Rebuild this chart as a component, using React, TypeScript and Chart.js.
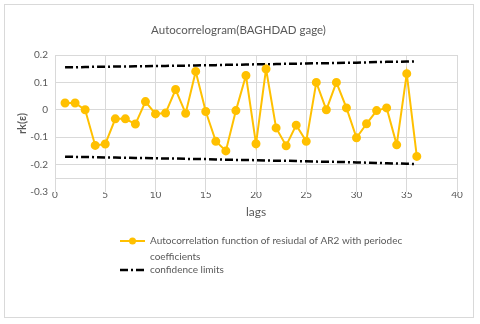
import React, { useEffect, useRef } from "react";
import { Chart, registerables } from "chart.js";

Chart.register(...registerables);

const lags = [1, 2, 3, 4, 5, 6, 7, 8, 9, 10, 11, 12, 13, 14, 15, 16, 17, 18, 19, 20, 21, 22, 23, 24, 25, 26, 27, 28, 29, 30, 31, 32, 33, 34, 35, 36];
const acfValues = [0.025, 0.025, 0.0, -0.13, -0.125, -0.033, -0.033, -0.052, 0.03, -0.015, -0.012, 0.074, -0.013, 0.14, -0.006, -0.115, -0.15, -0.003, 0.125, -0.124, 0.149, -0.066, -0.131, -0.056, -0.115, 0.1, 0.0, 0.1, 0.007, -0.102, -0.051, -0.003, 0.007, -0.128, 0.132, -0.17];
const upperLimit = [0.155, 0.155, 0.156, 0.157, 0.157, 0.158, 0.158, 0.159, 0.159, 0.16, 0.16, 0.161, 0.161, 0.162, 0.163, 0.163, 0.164, 0.164, 0.165, 0.166, 0.166, 0.167, 0.168, 0.168, 0.169, 0.17, 0.17, 0.171, 0.172, 0.172, 0.173, 0.174, 0.175, 0.175, 0.176, 0.177];
const lowerLimit = [-0.171, -0.172, -0.172, -0.173, -0.174, -0.174, -0.175, -0.176, -0.176, -0.177, -0.178, -0.178, -0.179, -0.18, -0.18, -0.181, -0.182, -0.183, -0.183, -0.184, -0.185, -0.186, -0.186, -0.187, -0.188, -0.189, -0.19, -0.19, -0.191, -0.192, -0.193, -0.194, -0.195, -0.196, -0.197, -0.198];

const titleText = "Autocorrelogram(BAGHDAD gage)";
const xTitle = "lags";
const yTitle = "rk(ε)";
const acfLabel = ["Autocorrelation function of resiudal of AR2 with periodec", "coefficients"];
const limitLabel = "confidence limits";

const FONT = "Lato";
const TEXT = "#595959";
const GRID = "#d9d9d9";
const ORANGE = "#FFC000";
const DASH = [8, 3, 2, 3];

const overlayPlugin = {
  id: "overlay",
  afterDraw(chart: any) {
    const ctx = chart.ctx;
    ctx.save();
    // title
    ctx.fillStyle = TEXT;
    ctx.font = `11.5px ${FONT}`;
    ctx.textAlign = "center";
    ctx.textBaseline = "middle";
    ctx.fillText(titleText, 238.5, 30);
    // legend item 1
    ctx.strokeStyle = ORANGE;
    ctx.lineWidth = 2;
    ctx.setLineDash([]);
    ctx.beginPath();
    ctx.moveTo(120, 241);
    ctx.lineTo(145, 241);
    ctx.stroke();
    ctx.fillStyle = ORANGE;
    ctx.beginPath();
    ctx.arc(132.5, 241, 3.5, 0, Math.PI * 2);
    ctx.fill();
    // legend item 2
    ctx.strokeStyle = "#000";
    ctx.lineWidth = 2.5;
    ctx.setLineDash(DASH);
    ctx.beginPath();
    ctx.moveTo(120, 270);
    ctx.lineTo(144, 270);
    ctx.stroke();
    ctx.setLineDash([]);
    ctx.fillStyle = TEXT;
    ctx.font = `10px ${FONT}`;
    ctx.textBaseline = "middle";
    ctx.textAlign = "left";
    ctx.fillText(acfLabel[0], 150, 241);
    ctx.fillText(acfLabel[1], 150, 257);
    ctx.fillText(limitLabel, 150, 270);
    ctx.restore();
  },
};

export default function App() {
  const ref = useRef<HTMLCanvasElement>(null);
  useEffect(() => {
    if (!ref.current) return;
    const chart = new Chart(ref.current, {
      type: "line",
      data: {
        datasets: [
          {
            label: acfLabel.join(" "),
            data: lags.map((l, i) => ({ x: l, y: acfValues[i] })),
            borderColor: ORANGE,
            backgroundColor: ORANGE,
            pointBackgroundColor: ORANGE,
            pointBorderColor: ORANGE,
            borderWidth: 2,
            pointRadius: 3.5,
            tension: 0,
          },
          {
            label: limitLabel,
            data: lags.map((l, i) => ({ x: l, y: upperLimit[i] })),
            borderColor: "#000",
            borderWidth: 2.5,
            borderDash: DASH,
            pointRadius: 0,
          },
          {
            label: limitLabel,
            data: lags.map((l, i) => ({ x: l, y: lowerLimit[i] })),
            borderColor: "#000",
            borderWidth: 2.5,
            borderDash: DASH,
            pointRadius: 0,
          },
        ],
      },
      options: {
        animation: false,
        responsive: false,
        layout: { padding: { left: 0, right: 23, top: 55, bottom: 102 } },
        plugins: {
          legend: { display: false },
          tooltip: { enabled: false },
          title: { display: false },
        },
        scales: {
          x: {
            type: "linear",
            min: 0,
            max: 40,
            ticks: {
              stepSize: 5,
              color: TEXT,
              font: { family: FONT, size: 10 },
              padding: -3,
              showLabelBackdrop: true,
              backdropColor: "#ffffff",
              backdropPadding: { top: 1, bottom: 0, left: 1, right: 1 },
            },
            grid: { color: GRID, drawTicks: false },
            border: { display: false },
            title: { display: true, text: xTitle, color: TEXT, font: { family: FONT, size: 12 }, padding: { top: 0, bottom: 3 } },
            afterFit: (s: any) => { s.height = 30; },
          },
          y: {
            min: -0.3,
            max: 0.2,
            ticks: {
              stepSize: 0.1,
              color: TEXT,
              font: { family: FONT, size: 10 },
              padding: 7,
              callback: (v: any) => {
                const n = Number(v);
                if (Math.abs(n + 0.25) < 1e-6) return "";
                return String(Math.round(n * 10) / 10);
              },
            },
            afterBuildTicks: (s: any) => {
              s.ticks.push({ value: -0.25 });
            },
            grid: {
              drawTicks: false,
              color: (c: any) => (c.tick && Math.abs(c.tick.value + 0.3) < 1e-6 ? "rgba(0,0,0,0)" : GRID),
            },
            border: { display: false },
            title: { display: true, text: yTitle, color: TEXT, font: { family: FONT, size: 11, weight: "bold" }, padding: { top: 16, bottom: 0 } },
            afterFit: (s: any) => { s.width = 55; },
          },
        },
      },
      plugins: [overlayPlugin],
    });
    return () => chart.destroy();
  }, []);
  return (
    <div style={{ position: "absolute", left: 0, top: 0, width: 480, height: 324, background: "#fff" }}>
      <div style={{ position: "absolute", left: 4, top: 4, width: 468, height: 312, border: "1px solid #d9d9d9" }} />
      <canvas ref={ref} width={480} height={324} style={{ position: "absolute", left: 0, top: 0 }} />
    </div>
  );
}
